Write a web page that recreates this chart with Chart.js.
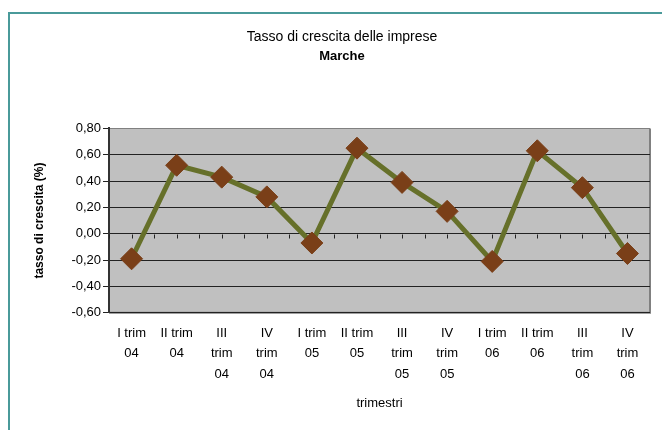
<!DOCTYPE html>
<html>
<head>
<meta charset="utf-8">
<script src="https://cdn.jsdelivr.net/npm/chart.js@4/dist/chart.umd.min.js"></script>
<style>
  html, body { margin: 0; padding: 0; background: #fff; overflow: hidden; }
  #wrap { position: relative; width: 662px; height: 430px; }
  #frame { position: absolute; left: 8px; top: 12px; width: 700px; height: 500px;
           border-left: 2px solid #4a9a9a; border-top: 2px solid #4a9a9a; }
  canvas { position: absolute; left: 0; top: 0; }
</style>
</head>
<body>
<div id="wrap">
  <div id="frame"></div>
  <canvas id="chart" width="662" height="430"></canvas>
</div>
<script>
// trimestri e tasso di crescita (%)
const trimestri = [
  ['I trim', '04'], ['II trim', '04'], ['III', 'trim', '04'], ['IV', 'trim', '04'],
  ['I trim', '05'], ['II trim', '05'], ['III', 'trim', '05'], ['IV', 'trim', '05'],
  ['I trim', '06'], ['II trim', '06'], ['III', 'trim', '06'], ['IV', 'trim', '06']
];
const tasso = [-0.19, 0.52, 0.43, 0.28, -0.07, 0.65, 0.39, 0.17, -0.21, 0.63, 0.35, -0.15];
const yTicks = [-0.6, -0.4, -0.2, 0, 0.2, 0.4, 0.6, 0.8];

const font = "'Liberation Sans', Arial, sans-serif";

// sfondo grigio dell'area del grafico e tacche sull'asse dello zero
const plotArea = {
  id: 'plotArea',
  beforeDraw(chart) {
    const { ctx, chartArea: a } = chart;
    ctx.save();
    ctx.fillStyle = '#c0c0c0';
    ctx.fillRect(a.left, a.top, a.right - a.left, a.bottom - a.top);
    ctx.strokeStyle = '#808080';
    ctx.lineWidth = 2;
    ctx.beginPath();
    ctx.moveTo(a.left, a.bottom);
    ctx.lineTo(a.right, a.bottom);
    ctx.lineTo(a.right, a.top);
    ctx.stroke();
    ctx.restore();
  },
  beforeDatasetsDraw(chart) {
    const { ctx, scales } = chart;
    const x = scales.x, y = scales.y;
    const y0 = Math.round(y.getPixelForValue(0)) + 0.5;
    const half = (x.getPixelForValue(1) - x.getPixelForValue(0)) / 2;
    ctx.save();
    ctx.strokeStyle = '#222';
    ctx.lineWidth = 1;
    ctx.beginPath();
    for (let i = 0; i < trimestri.length; i++) {
      const c = x.getPixelForValue(i);
      [c - half, c].forEach(px => {
        px = Math.round(px) + 0.5;
        ctx.moveTo(px, y0);
        ctx.lineTo(px, y0 + 4);
      });
    }
    ctx.stroke();
    ctx.restore();
  }
};

new Chart(document.getElementById('chart'), {
  type: 'line',
  data: {
    labels: trimestri,
    datasets: [{
      data: tasso,
      borderColor: '#66702a',
      borderWidth: 5,
      pointStyle: 'rectRot',
      pointRadius: 11,
      pointHoverRadius: 11,
      pointBackgroundColor: '#7a3f18',
      pointBorderColor: '#7a3f18',
      pointBorderWidth: 1,
      tension: 0
    }]
  },
  options: {
    responsive: false,
    animation: false,
    layout: { padding: { left: 32, right: 10, top: 0, bottom: 19 } },
    plugins: {
      legend: { display: false },
      tooltip: { enabled: false },
      title: {
        display: true,
        text: 'Tasso di crescita delle imprese',
        color: '#000',
        font: { family: font, size: 14, weight: 'normal' },
        padding: { top: 29, bottom: 3 }
      },
      subtitle: {
        display: true,
        text: 'Marche',
        color: '#000',
        font: { family: font, size: 13, weight: 'bold' },
        padding: { top: 0, bottom: 64 }
      }
    },
    scales: {
      x: {
        offset: true,
        grid: { display: false },
        border: { display: false },
        ticks: {
          color: '#000',
          maxRotation: 0,
          autoSkip: false,
          padding: 2,
          font: { family: font, size: 13, lineHeight: 1.58 }
        },
        title: {
          display: true,
          text: 'trimestri',
          color: '#000',
          font: { family: font, size: 13 },
          padding: { top: 9, bottom: 0 }
        }
      },
      y: {
        min: -0.6,
        max: 0.8,
        afterBuildTicks(axis) { axis.ticks = yTicks.map(v => ({ value: v })); },
        grid: {
          color: ctx => (ctx.tick && ctx.tick.value === 0.8) ? '#808080' : '#222',
          tickColor: '#222',
          tickLength: 6,
          lineWidth: 1
        },
        border: { display: true, color: '#333', width: 2 },
        ticks: {
          color: '#000',
          padding: 2,
          font: { family: font, size: 13 },
          callback: v => v.toFixed(2).replace('.', ',')
        },
        title: {
          display: true,
          text: 'tasso di crescita (%)',
          color: '#000',
          font: { family: font, size: 12, weight: 'bold' },
          padding: { top: 0, bottom: 23 }
        }
      }
    }
  },
  plugins: [plotArea]
});
</script>
</body>
</html>
